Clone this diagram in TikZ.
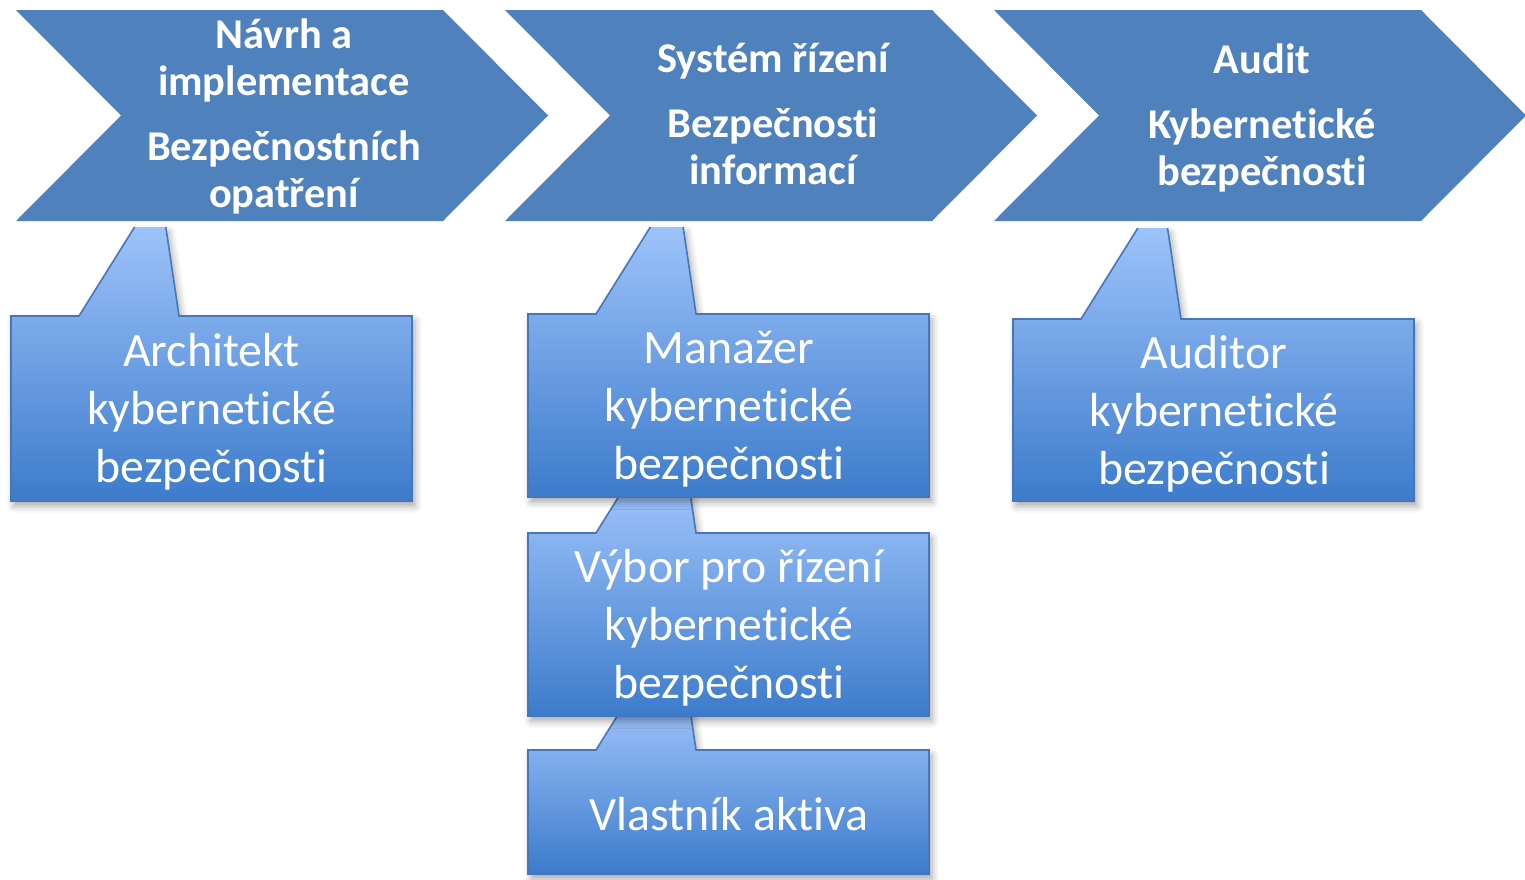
\documentclass[tikz,border=0pt]{standalone}
\usepackage{fontspec}
\setmainfont{Carlito}[Ligatures={NoCommon,NoRequired,NoContextual}]
\usetikzlibrary{shadows.blur}
\definecolor{chev}{RGB}{79,129,189}
\definecolor{ctop}{RGB}{157,195,250}
\definecolor{cbot}{RGB}{60,123,203}
\definecolor{cline}{RGB}{70,120,185}
\tikzset{
 chevron/.style={fill=chev, draw=none},
 callbox/.style={top color=ctop, bottom color=cbot,
   blur shadow={shadow xshift=1.5pt, shadow yshift=-2.5pt, shadow blur radius=3.5pt, shadow opacity=35}},
 callline/.style={draw=cline, line width=0.8pt, line join=miter},
 chevtext/.style={text=white, font=\fontsize{21.2}{23.5}\selectfont\bfseries, align=center},
 calltext/.style={text=white, font=\fontsize{23.9}{29}\selectfont, align=center},
}
\newcommand\mychevron[1]{%
 \path[chevron] (#1,10) -- ({#1+427},10) -- ({#1+532},115.5) -- ({#1+427},221) -- (#1,221) -- ({#1+105},115.5) -- cycle;}
\newcommand\mycallout[4]{%
 \path[callbox] (#1,#2) -- ({#1+68},#2) -- ({#1+68+0.625*#4},{#2-#4}) -- ({#1+168-0.148*#4},{#2-#4}) -- ({#1+168},#2) -- ({#1+401},#2) -- ({#1+401},#3) -- (#1,#3) -- cycle;
 \path[callline] ({#1+168-0.148*#4},{#2-#4}) -- ({#1+168},#2) -- ({#1+401},#2) -- ({#1+401},#3) -- (#1,#3) -- (#1,#2) -- ({#1+68},#2) -- ({#1+68+0.625*#4},{#2-#4});}
\begin{document}
\begin{tikzpicture}[x=0.5pt,y=-0.5pt]
\useasboundingbox (0,0) rectangle (1525,879);
\mychevron{16}
\mychevron{505}
\mychevron{994}
\mycallout{528}{750}{874}{45}
\mycallout{528}{533}{716}{45}
\mycallout{528}{314}{497}{87}
\mycallout{11}{316}{501}{89}
\mycallout{1013}{319}{501}{91}
\node[chevtext] (c1) at (284,116.5) {Návrh a\\implementace\\[9pt]Bezpečnostních\\opatření};
\node[chevtext] (c2) at (773,114.5) {Systém řízení\\[9pt]Bezpečnosti\\informací};
\node[chevtext] (c3) at (1262,117.5) {Audit\\[9pt]Kybernetické\\bezpečnosti};
\node[calltext] (arch) at (211.5,412) {Architekt\\kybernetické\\bezpečnosti};
\node[calltext] (man) at (729,409) {Manažer\\kybernetické\\bezpečnosti};
\node[calltext] (vyb) at (729,627.5) {Výbor pro řízení\\kybernetické\\bezpečnosti};
\node[calltext] (vla) at (729,814) {Vlastník aktiva};
\node[calltext] (aud) at (1214,414) {Auditor\\kybernetické\\bezpečnosti};
\end{tikzpicture}
\end{document}
